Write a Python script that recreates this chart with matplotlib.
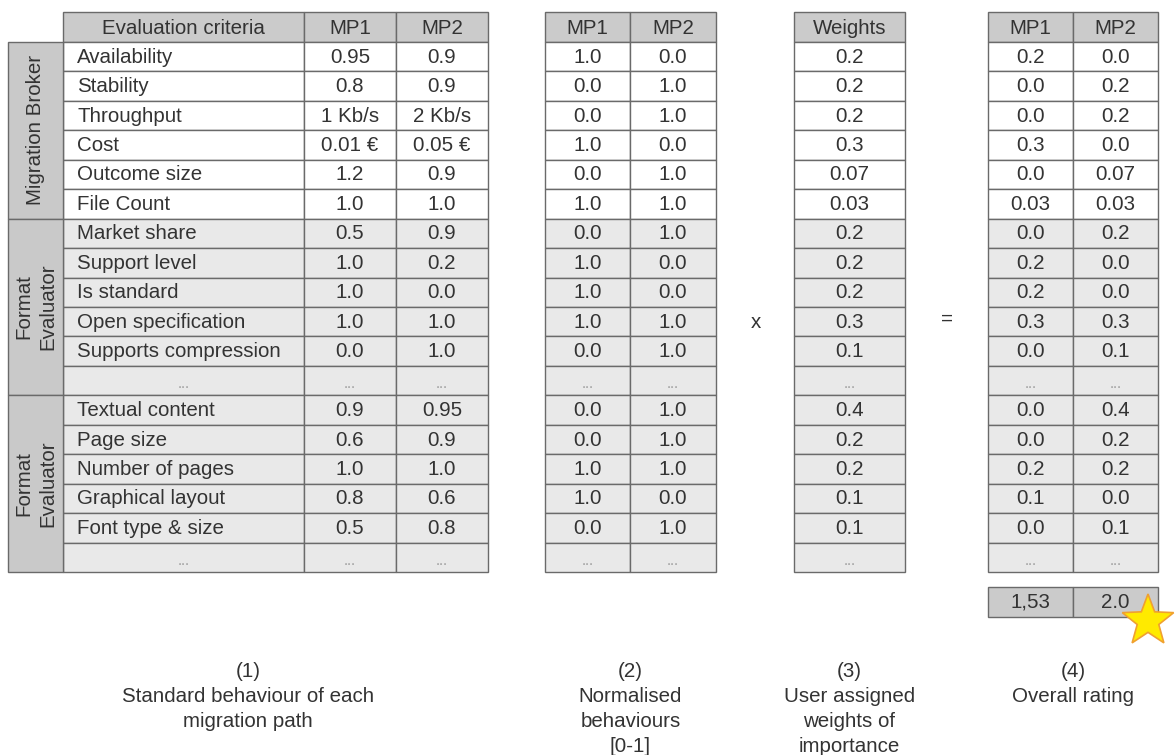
import matplotlib
matplotlib.use("Agg")
import matplotlib.pyplot as plt
from matplotlib.patches import Rectangle
import matplotlib.patches as mpatches
import numpy as np

plt.rcParams['font.family'] = ['Liberation Sans', 'DejaVu Sans']

# ---------------- data ----------------
groups = ["Migration Broker", "Format\nEvaluator", "Format\nEvaluator"]
group_sizes = [6, 6, 6]
criteria = ["Availability", "Stability", "Throughput", "Cost", "Outcome size", "File Count",
            "Market share", "Support level", "Is standard", "Open specification",
            "Supports compression", "...",
            "Textual content", "Page size", "Number of pages", "Graphical layout",
            "Font type & size", "..."]
mp1_raw = ["0.95", "0.8", "1 Kb/s", "0.01 €", "1.2", "1.0",
           "0.5", "1.0", "1.0", "1.0", "0.0", "...",
           "0.9", "0.6", "1.0", "0.8", "0.5", "..."]
mp2_raw = ["0.9", "0.9", "2 Kb/s", "0.05 €", "0.9", "1.0",
           "0.9", "0.2", "0.0", "1.0", "1.0", "...",
           "0.95", "0.9", "1.0", "0.6", "0.8", "..."]
norm_mp1 = ["1.0", "0.0", "0.0", "1.0", "0.0", "1.0",
            "0.0", "1.0", "1.0", "1.0", "0.0", "...",
            "0.0", "0.0", "1.0", "1.0", "0.0", "..."]
norm_mp2 = ["0.0", "1.0", "1.0", "0.0", "1.0", "1.0",
            "1.0", "0.0", "0.0", "1.0", "1.0", "...",
            "1.0", "1.0", "1.0", "0.0", "1.0", "..."]
weights = ["0.2", "0.2", "0.2", "0.3", "0.07", "0.03",
           "0.2", "0.2", "0.2", "0.3", "0.1", "...",
           "0.4", "0.2", "0.2", "0.1", "0.1", "..."]
rating_mp1 = ["0.2", "0.0", "0.0", "0.3", "0.0", "0.03",
              "0.0", "0.2", "0.2", "0.3", "0.0", "...",
              "0.0", "0.0", "0.2", "0.1", "0.0", "..."]
rating_mp2 = ["0.0", "0.2", "0.2", "0.0", "0.07", "0.03",
              "0.2", "0.0", "0.0", "0.3", "0.1", "...",
              "0.4", "0.2", "0.2", "0.0", "0.1", "..."]
totals = ["1,53", "2.0"]
captions = ["(1)\nStandard behaviour of each\nmigration path",
            "(2)\nNormalised\nbehaviours\n[0-1]",
            "(3)\nUser assigned\nweights of\nimportance",
            "(4)\nOverall rating"]

# ---------------- layout ----------------
W, H = 1175, 755
fig = plt.figure(figsize=(W / 100, H / 100), dpi=100)
ax = fig.add_axes([0, 0, 1, 1])
ax.set_xlim(0, W)
ax.set_ylim(H, 0)
ax.axis('off')

HEAD_TOP, HEAD_BOT = 12, 42
NROWS = len(criteria)
BOT = 572
ROWH = (BOT - HEAD_BOT) / NROWS
FS = 14.8
LINE = '#6a6a6a'
HEAD_FILL = '#cbcbcb'
LIGHT = '#e9e9e9'
WHITE = '#ffffff'
TXT = '#333333'


def row_fill(i):
    return WHITE if i < 6 else LIGHT


def cell(x0, x1, y0, y1, fc, lw=1.0):
    ax.add_patch(Rectangle((x0, y0), x1 - x0, y1 - y0, facecolor=fc,
                           edgecolor=LINE, linewidth=lw, zorder=2))


def write(x, y, s, ha='center', fs=FS, y1=None):
    if s == "...":
        ax.text(x, y1 - 7, "...", ha='center', va='baseline', fontsize=10.5,
                color='#9a9a9a', zorder=3)
    else:
        ax.text(x, y, s, ha=ha, va='center', fontsize=fs, color=TXT, zorder=3)


def draw_table(cols, headers, columns, left_text=False):
    for c in range(len(cols) - 1):
        cell(cols[c], cols[c + 1], HEAD_TOP, HEAD_BOT, HEAD_FILL)
        write((cols[c] + cols[c + 1]) / 2, (HEAD_TOP + HEAD_BOT) / 2 + 1, headers[c])
    for i in range(NROWS):
        y0 = HEAD_BOT + i * ROWH
        y1 = y0 + ROWH
        for c in range(len(cols) - 1):
            cell(cols[c], cols[c + 1], y0, y1, row_fill(i))
            s = columns[c][i]
            if left_text and c == 0 and s != "...":
                write(cols[c] + 14, (y0 + y1) / 2 + 0.5, s, ha='left', y1=y1)
            else:
                write((cols[c] + cols[c + 1]) / 2, (y0 + y1) / 2 + 0.5, s, y1=y1)


# table 1
t1 = [63, 304, 396, 488]
draw_table(t1, ["Evaluation criteria", "MP1", "MP2"], [criteria, mp1_raw, mp2_raw], left_text=True)
# side group labels
start = HEAD_BOT
for g, n in zip(groups, group_sizes):
    y0 = start
    y1 = start + n * ROWH
    cell(8, 63, y0, y1, '#c9c9c9')
    ax.text(36, (y0 + y1) / 2, g, rotation=90, ha='center', va='center',
            fontsize=FS, color=TXT, zorder=3, linespacing=1.35, multialignment='center')
    start = y1

# table 2
t2 = [545, 630, 716]
draw_table(t2, ["MP1", "MP2"], [norm_mp1, norm_mp2])

# table 3
t3 = [794, 905]
draw_table(t3, ["Weights"], [weights])

# table 4
t4 = [988, 1073, 1158]
draw_table(t4, ["MP1", "MP2"], [rating_mp1, rating_mp2])

# totals row
for c in range(2):
    cell(t4[c], t4[c + 1], 587, 617, HEAD_FILL)
    write((t4[c] + t4[c + 1]) / 2, 602.5, totals[c], y1=617)

# operators
mid_y = HEAD_BOT + 9.5 * ROWH
ax.text((t2[-1] + t3[0]) / 2 + 1, mid_y + 1, "x", ha='center', va='center', fontsize=FS, color=TXT)
ax.text((t3[-1] + t4[0]) / 2, mid_y - 2, "=", ha='center', va='center', fontsize=FS, color=TXT)

# star
cx, cy, R = 1148, 621, 27
r_in = R * 0.42
ang = np.pi / 2 + np.arange(10) * np.pi / 5
rad = np.where(np.arange(10) % 2 == 0, R, r_in)
pts = np.column_stack([cx + rad * np.cos(ang), cy - rad * np.sin(ang)])
ax.add_patch(mpatches.Polygon(pts, closed=True, facecolor='#ffea00',
                              edgecolor='#f0a030', linewidth=1.2, zorder=5))

# captions
centers = [(8 + 488) / 2, (t2[0] + t2[-1]) / 2, (t3[0] + t3[-1]) / 2, (t4[0] + t4[-1]) / 2]
for x, s in zip(centers, captions):
    ax.text(x, 662, s, ha='center', va='top', fontsize=FS, color=TXT,
            linespacing=1.4, multialignment='center')

fig.savefig("out.png", dpi=100)
